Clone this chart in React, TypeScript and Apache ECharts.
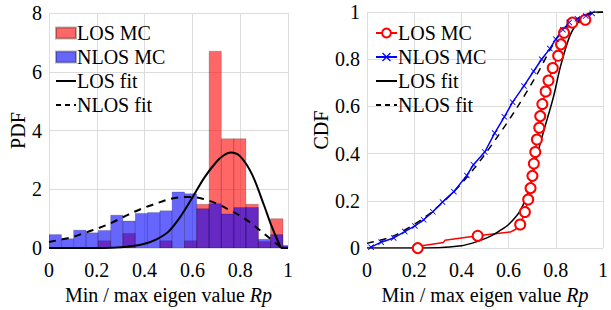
import React, { useEffect, useRef } from 'react';
import * as echarts from 'echarts';

// Histogram bin edges (Rp)
const binEdges = [0, 0.052, 0.103, 0.155, 0.206, 0.258, 0.309, 0.361, 0.412, 0.464, 0.515, 0.567, 0.618, 0.67, 0.721, 0.773, 0.824, 0.876, 0.927, 0.979, 1.03];
// PDF heights per bin
const losMcPdf = [0, 0, 0, 0, 0.25, 0, 0.5, 0, 0, 0.25, 0, 0.25, 1.49, 6.7, 3.72, 3.72, 1.49, 0.22, 1.0, 0.08];
const nlosMcPdf = [0.46, 0.32, 0.61, 0.52, 0.6, 1.12, 0.92, 1.18, 1.21, 1.27, 1.91, 1.85, 1.34, 1.51, 1.16, 1.38, 1.38, 0.3, 0.46, 0.08];

// Fitted PDFs
const losFitPdf = [[0, 0], [0.2, 0], [0.3, 0.03], [0.35, 0.07], [0.4, 0.15], [0.45, 0.3], [0.5, 0.56], [0.55, 1.07], [0.6, 1.72], [0.65, 2.4], [0.7, 2.93], [0.73, 3.15], [0.76, 3.25], [0.8, 3.12], [0.85, 2.5], [0.9, 1.45], [0.93, 0.77], [0.96, 0.2], [0.975, 0], [1, 0]];
const nlosFitPdf = [[0, 0.21], [0.05, 0.29], [0.1, 0.38], [0.15, 0.52], [0.2, 0.66], [0.25, 0.82], [0.3, 1.01], [0.35, 1.21], [0.4, 1.38], [0.45, 1.52], [0.5, 1.66], [0.55, 1.73], [0.6, 1.74], [0.65, 1.66], [0.7, 1.52], [0.75, 1.32], [0.8, 1.1], [0.85, 0.82], [0.9, 0.49], [0.95, 0.16], [0.98, 0], [1, 0]];

// Empirical CDFs
const losMcCdf = [[0.215, 0], [0.22, 0.008], [0.324, 0.024], [0.33, 0.033], [0.469, 0.052], [0.607, 0.068], [0.63, 0.08], [0.649, 0.1], [0.669, 0.153], [0.683, 0.206], [0.693, 0.254], [0.701, 0.306], [0.707, 0.358], [0.713, 0.407], [0.72, 0.46], [0.73, 0.51], [0.734, 0.559], [0.743, 0.61], [0.757, 0.663], [0.769, 0.71], [0.787, 0.763], [0.81, 0.815], [0.822, 0.863], [0.835, 0.912], [0.858, 0.945], [0.87, 0.955], [0.9, 0.955], [0.905, 0.967], [0.925, 0.967]];
const losMcMarkers = [1, 0, 0, 0, 1, 0, 0, 1, 1, 1, 1, 1, 1, 1, 1, 1, 1, 1, 1, 1, 1, 1, 1, 1, 0, 1, 0, 0, 1];
const nlosMcCdf = [[0.017, 0.004], [0.06, 0.025], [0.113, 0.043], [0.16, 0.07], [0.203, 0.094], [0.24, 0.12], [0.279, 0.154], [0.32, 0.195], [0.368, 0.239], [0.423, 0.308], [0.451, 0.353], [0.499, 0.407], [0.541, 0.487], [0.582, 0.556], [0.617, 0.618], [0.665, 0.687], [0.706, 0.749], [0.74, 0.8], [0.775, 0.845], [0.8, 0.885], [0.83, 0.925], [0.857, 0.956], [0.892, 0.971], [0.927, 0.983], [0.954, 0.994]];

// Fitted CDFs
const losFitCdf = [[0, 0], [0.3, 0.002], [0.4, 0.01], [0.45, 0.022], [0.5, 0.04], [0.53, 0.054], [0.56, 0.072], [0.6, 0.1], [0.65, 0.16], [0.69, 0.26], [0.72, 0.39], [0.75, 0.5], [0.79, 0.64], [0.82, 0.77], [0.86, 0.9], [0.9, 0.965], [0.93, 0.99], [0.97, 1], [1, 1]];
const nlosFitCdf = [[0, 0.02], [0.113, 0.052], [0.251, 0.135], [0.361, 0.232], [0.458, 0.342], [0.554, 0.473], [0.637, 0.597], [0.72, 0.735], [0.803, 0.887], [0.858, 0.949], [0.913, 0.983], [0.968, 0.997], [1, 1]];

const pdfTicks = { min: 0, max: 8, interval: 2 };
const cdfTicks = { min: 0, max: 1, interval: 0.2 };

const FONT = "'Liberation Serif', 'Times New Roman', serif";
const RED_FILL = 'rgba(255,0,0,0.6)';
const BLUE_FILL = 'rgba(0,0,255,0.6)';
const EDGE = 'rgba(0,0,0,0.3)';
const GRID = '#dcdcdc';

const X_ICON = 'path://M0,1 L1,0 L5,4 L9,0 L10,1 L6,5 L10,9 L9,10 L5,6 L1,10 L0,9 L4,5 Z';

function histData(vals: number[]) {
  return vals.map((h, i) => [binEdges[i], binEdges[i + 1], h]);
}

function histSeries(name: string, vals: number[], fill: string) {
  return {
    type: 'custom',
    name,
    xAxisIndex: 0,
    yAxisIndex: 0,
    clip: true,
    itemStyle: { color: fill, borderColor: EDGE, borderWidth: 0.6 },
    data: histData(vals),
    renderItem: (params: any, api: any) => {
      const h = api.value(2);
      if (!h) return null;
      const p0 = api.coord([api.value(0), h]);
      const p1 = api.coord([api.value(1), 0]);
      return {
        type: 'rect',
        shape: { x: p0[0], y: p0[1], width: p1[0] - p0[0], height: p1[1] - p0[1] },
        style: { fill, stroke: EDGE, lineWidth: 0.6 },
      };
    },
  };
}

const axisText = { color: '#000', fontFamily: FONT, fontSize: 20 };
const hiddenSym = { opacity: 0 };

export default function App() {
  const ref = useRef<HTMLDivElement>(null);
  useEffect(() => {
    if (!ref.current) return;
    const chart = echarts.init(ref.current, undefined, { renderer: 'svg' });
    const xAxisBase = {
      type: 'value',
      min: 0,
      max: 1,
      interval: 0.2,
      axisLine: { show: false },
      axisTick: { show: false },
      splitLine: { show: true, lineStyle: { color: GRID, width: 1 } },
      axisLabel: { ...axisText, margin: 12 },
      name: 'Min / max eigen value {i|Rp}',
      nameLocation: 'middle',
      nameGap: 34,
      nameTextStyle: { ...axisText, rich: { i: { fontStyle: 'italic', fontFamily: FONT, fontSize: 20, color: '#000' } } },
    };
    const yAxisBase = {
      type: 'value',
      axisLine: { show: false },
      axisTick: { show: false },
      splitLine: { show: true, lineStyle: { color: GRID, width: 1 } },
      axisLabel: { ...axisText, margin: 7 },
      nameLocation: 'middle',
      nameTextStyle: axisText,
    };
    const legendText = { color: '#000', fontFamily: FONT, fontSize: 20, padding: [0, 0, 0, -4] };
    chart.setOption({
      animation: false,
      textStyle: { fontFamily: FONT },
      grid: [
        { left: 49, top: 13, width: 239, height: 240 },
        { left: 367, top: 12, width: 241, height: 241 },
      ],
      xAxis: [
        { ...xAxisBase, gridIndex: 0 },
        { ...xAxisBase, gridIndex: 1 },
      ],
      yAxis: [
        { ...yAxisBase, gridIndex: 0, ...pdfTicks, name: 'PDF', nameGap: 21 },
        { ...yAxisBase, gridIndex: 1, ...cdfTicks, name: 'CDF', nameGap: 35 },
      ],
      legend: [
        {
          orient: 'vertical',
          left: 55,
          top: 23,
          padding: 0,
          itemGap: 4,
          itemWidth: 20,
          itemHeight: 11,
          textStyle: legendText,
          formatter: (n: string) => n.replace('#2', ''),
          data: [
            { name: 'LOS MC', icon: 'rect' },
            { name: 'NLOS MC', icon: 'rect' },
            { name: 'LOS fit', itemStyle: hiddenSym },
            { name: 'NLOS fit', itemStyle: hiddenSym, lineStyle: { type: [5, 4] } },
          ],
        },
        {
          orient: 'vertical',
          left: 375,
          top: 23,
          padding: 0,
          itemGap: 4,
          itemWidth: 21,
          itemHeight: 11,
          textStyle: legendText,
          formatter: (n: string) => n.replace('#2', ''),
          data: [
            'LOS MC#2',
            'NLOS MC#2',
            { name: 'LOS fit#2', itemStyle: hiddenSym },
            { name: 'NLOS fit#2', itemStyle: hiddenSym, lineStyle: { type: [5, 4] } },
          ],
        },
      ],
      series: [
        histSeries('LOS MC', losMcPdf, RED_FILL),
        histSeries('NLOS MC', nlosMcPdf, BLUE_FILL),
        {
          type: 'line', name: 'LOS fit', xAxisIndex: 0, yAxisIndex: 0,
          data: losFitPdf, symbol: 'none', smooth: 0.3,
          lineStyle: { color: '#000', width: 2 }, itemStyle: { color: '#000' },
        },
        {
          type: 'line', name: 'NLOS fit', xAxisIndex: 0, yAxisIndex: 0,
          data: nlosFitPdf, symbol: 'none', smooth: 0.3,
          lineStyle: { color: '#000', width: 2, type: [7, 6] }, itemStyle: { color: '#000' },
        },
        {
          type: 'line', name: 'LOS MC#2', xAxisIndex: 1, yAxisIndex: 1,
          data: losMcCdf.map((p, i) => ({ value: p, symbol: losMcMarkers[i] ? 'emptyCircle' : 'none' })),
          symbol: 'emptyCircle', symbolSize: 10, showAllSymbol: true,
          lineStyle: { color: '#ff0000', width: 1.5 },
          itemStyle: { color: '#ff0000', borderWidth: 1 },
        },
        {
          type: 'line', name: 'NLOS MC#2', xAxisIndex: 1, yAxisIndex: 1,
          data: nlosMcCdf, symbol: X_ICON, symbolSize: 6, showAllSymbol: true,
          lineStyle: { color: '#0000ff', width: 1.5 },
          itemStyle: { color: '#0000ff' },
        },
        {
          type: 'line', name: 'LOS fit#2', xAxisIndex: 1, yAxisIndex: 1,
          data: losFitCdf, symbol: 'none', smooth: 0.3,
          lineStyle: { color: '#000', width: 1.5 }, itemStyle: { color: '#000' },
        },
        {
          type: 'line', name: 'NLOS fit#2', xAxisIndex: 1, yAxisIndex: 1,
          data: nlosFitCdf, symbol: 'none', smooth: 0.3, z: 1,
          lineStyle: { color: '#000', width: 1.5, type: [7, 6] }, itemStyle: { color: '#000' },
        },
      ],
    });
    return () => chart.dispose();
  }, []);
  return <div ref={ref} style={{ position: 'fixed', left: 0, top: 0, width: 611, height: 310, background: '#fff' }} />;
}
